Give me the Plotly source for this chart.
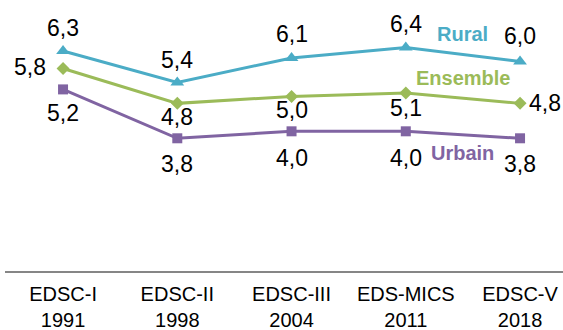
import plotly.graph_objects as go

# Survey rounds (label line 1) and their years (label line 2)
surveys = ["EDSC-I", "EDSC-II", "EDSC-III", "EDS-MICS", "EDSC-V"]
years = ["1991", "1998", "2004", "2011", "2018"]

rural = [6.3, 5.4, 6.1, 6.4, 6.0]
ensemble = [5.8, 4.8, 5.0, 5.1, 4.8]
urbain = [5.2, 3.8, 4.0, 4.0, 3.8]

categories = [f"{s}<br>{y}" for s, y in zip(surveys, years)]

series = [
    # name, values, colour, marker symbol, marker size, label offsets (dx, dy) per point
    ("Rural", rural, "#4BACC6", "triangle-up", 12,
     [(0, 23), (0, 22), (0, 24), (0, 23), (0, 25)]),
    ("Ensemble", ensemble, "#9BBB59", "diamond", 10,
     [(-33, 1), (0, -14), (0, -14), (0, -15), (25, 0)]),
    ("Urbain", urbain, "#8064A2", "square", 10,
     [(0, -24), (0, -26), (0, -27), (0, -27), (0, -26)]),
]

# Series names written next to the lines
name_x = 3.5
name_y = {"Rural": 6.79, "Ensemble": 5.53, "Urbain": 3.39}

FONT = "Arial, Liberation Sans, sans-serif"

fig = go.Figure()
annotations = []
for name, vals, color, symbol, msize, offsets in series:
    fig.add_trace(go.Scatter(
        x=categories, y=vals, mode="lines+markers", name=name,
        line=dict(color=color, width=3),
        marker=dict(symbol=symbol, size=msize, color=color),
        showlegend=False,
    ))
    for cat, v, (dx, dy) in zip(categories, vals, offsets):
        annotations.append(dict(
            x=cat, y=v, xref="x", yref="y",
            text=f"{v:.1f}".replace(".", ","),
            showarrow=False, xshift=dx, yshift=dy,
            font=dict(family=FONT, size=23, color="#000000"),
        ))
    annotations.append(dict(
        x=name_x, y=name_y[name], xref="x", yref="y",
        text=f"<b>{name}</b>", showarrow=False,
        font=dict(family=FONT, size=20, color=color),
    ))

fig.update_layout(
    width=563, height=330,
    margin=dict(l=5, r=0, t=0, b=59),
    paper_bgcolor="white", plot_bgcolor="white",
    annotations=annotations,
    xaxis=dict(
        type="category", range=[-0.508, 4.376],
        showline=True, linecolor="#868686", linewidth=2,
        showgrid=False, zeroline=False, ticks="",
        ticklabelstandoff=4,
        tickfont=dict(family=FONT, size=20, color="#000000"),
    ),
    yaxis=dict(
        range=[0, 7.76], visible=False, showgrid=False, zeroline=False,
    ),
)

fig.write_html("out.html")
